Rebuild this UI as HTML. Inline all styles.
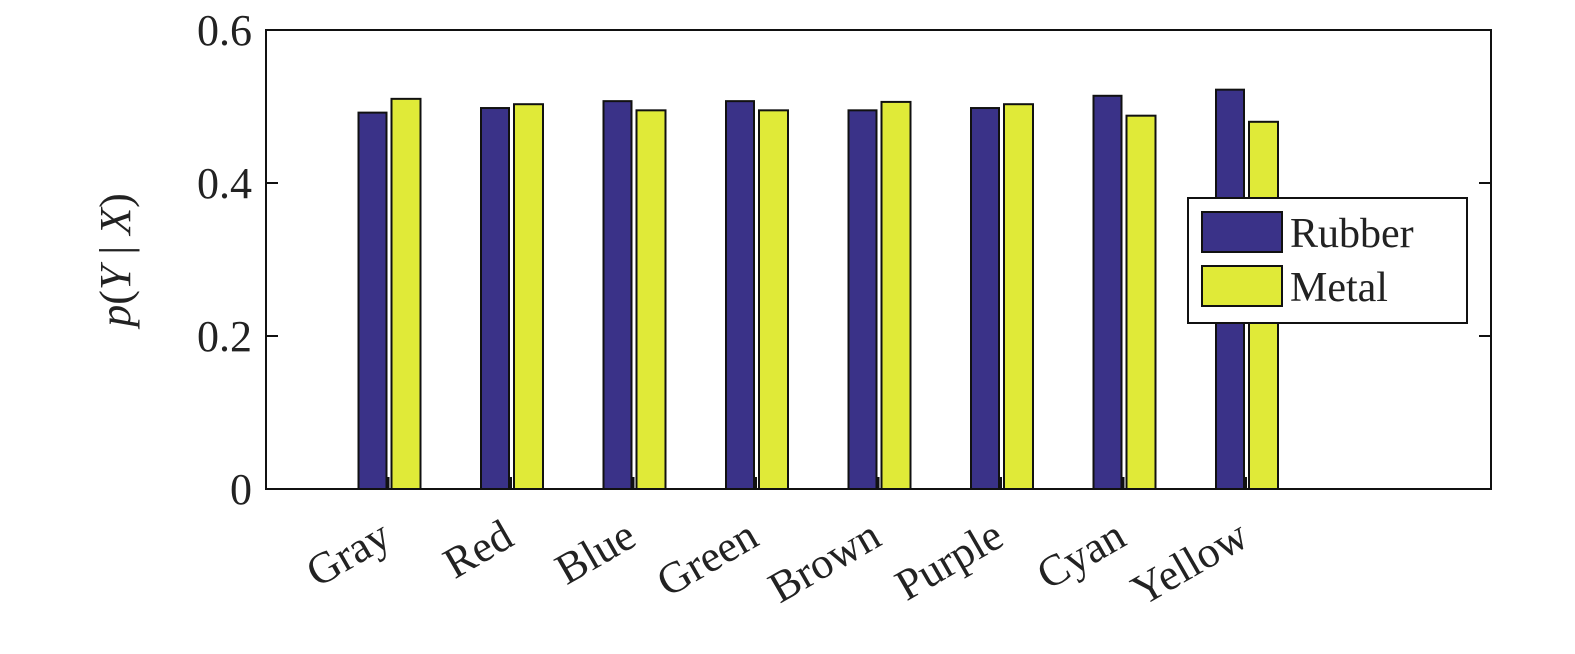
<!DOCTYPE html>
<html><head><meta charset="utf-8">
<style>
body{margin:0;background:#fff;}
svg{display:block;font-family:"Liberation Serif",serif;}
</style></head>
<body>
<svg id="chart" width="1575" height="654" viewBox="0 0 1575 654" xmlns="http://www.w3.org/2000/svg">
<rect x="0" y="0" width="1575" height="654" fill="#fff"/>
<g id="bars"></g>
<g id="axes"></g>
<text transform="translate(130,260) rotate(-90)" text-anchor="middle" font-size="44" fill="#222"><tspan font-style="italic">p</tspan>(<tspan font-style="italic">Y</tspan> | <tspan font-style="italic">X</tspan>)</text>
<g>
<rect x="1188" y="198" width="279" height="125" fill="#fff" stroke="#111" stroke-width="2"/>
<g>
<rect x="1202" y="212" width="80" height="40" fill="#3a3288" stroke="#111" stroke-width="2"/>
<text x="1290" y="247" font-size="42" fill="#222">Rubber</text></g>
<g>
<rect x="1202" y="266" width="80" height="40" fill="#e0ea38" stroke="#111" stroke-width="2"/>
<text x="1290" y="301" font-size="42" fill="#222">Metal</text></g>
</g>
</svg>
<script>
const categories=["Gray","Red","Blue","Green","Brown","Purple","Cyan","Yellow"];
const rubber=[0.492,0.498,0.507,0.507,0.495,0.498,0.514,0.522];
const metal=[0.510,0.503,0.495,0.495,0.506,0.503,0.488,0.480];
const yTicks=[0,0.2,0.4,0.6];
const yTickLabels=["0","0.2","0.4","0.6"];
const NS="http://www.w3.org/2000/svg";
const L=266,R=1491,T=30,B=489;
const xs=v=>L+(R-L)*v/10;
const ys=v=>B-(B-T)*v/0.6;
function mk(tag,attrs,parent){const e=document.createElementNS(NS,tag);for(const k in attrs)e.setAttribute(k,attrs[k]);parent.appendChild(e);return e;}
const bars=document.getElementById('bars'),axes=document.getElementById('axes');
const bw=28;
categories.forEach((c,i)=>{
  const cx=xs(i+1);
  const r=mk('rect',{x:cx-bw-2,y:ys(rubber[i]),width:bw,height:B-ys(rubber[i]),fill:'#3a3288',stroke:'#111','stroke-width':2},bars);
  
  
  const m=mk('rect',{x:cx+3,y:ys(metal[i]),width:bw+1,height:B-ys(metal[i]),fill:'#e0ea38',stroke:'#111','stroke-width':2},bars);
  
  
  const tk=mk('line',{x1:cx,x2:cx,y1:B,y2:B-12,stroke:'#111','stroke-width':2},axes);
  
  
  const t=mk('text',{transform:`translate(${cx+5},${B+55}) rotate(-30)`,'text-anchor':'end','font-size':44,fill:'#222'},axes);
  
  
  t.textContent=c;
});
const frame=mk('rect',{x:L,y:T,width:R-L,height:B-T,fill:'none',stroke:'#111','stroke-width':2},axes);


yTicks.forEach((v,i)=>{
  const y=ys(v);
  mk('line',{x1:L,x2:L+12,y1:y,y2:y,stroke:'#111','stroke-width':2},axes);
  mk('line',{x1:R,x2:R-12,y1:y,y2:y,stroke:'#111','stroke-width':2},axes);
  const t=mk('text',{x:L-14,y:y+15,'text-anchor':'end','font-size':44,fill:'#222'},axes);
  
  
  t.textContent=yTickLabels[i];
});
</script>
</body></html>
